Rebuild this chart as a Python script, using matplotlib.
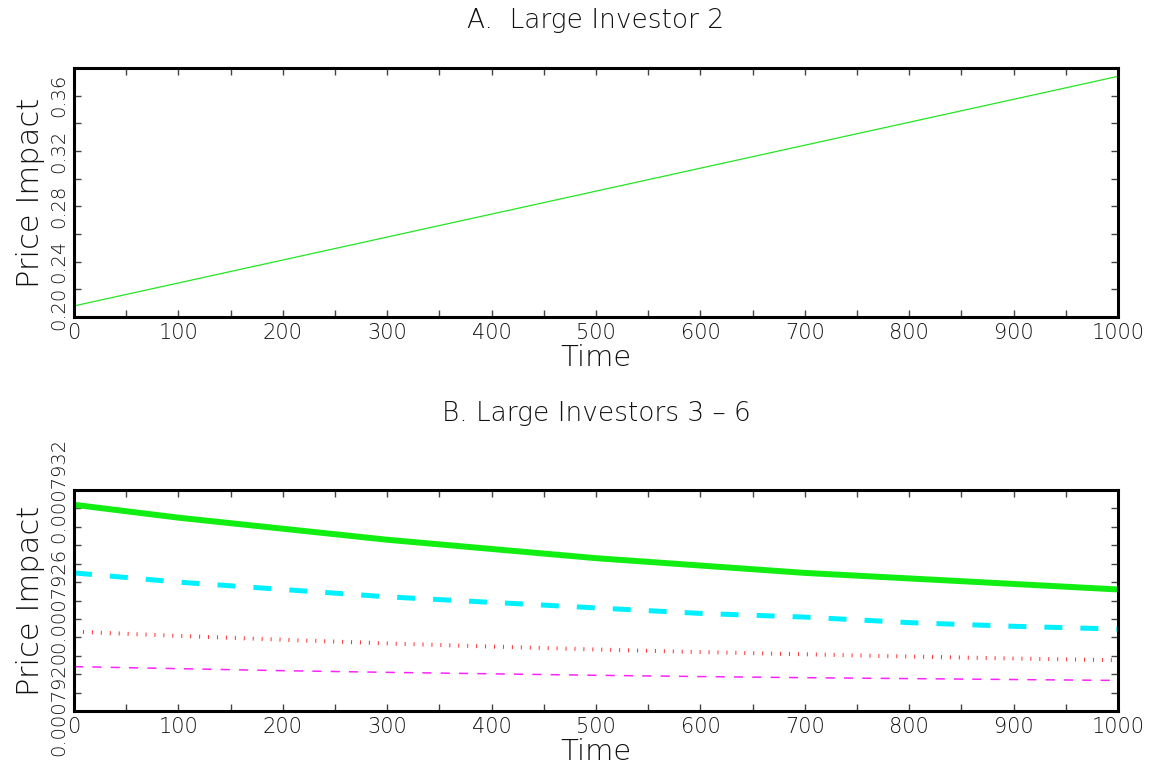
import matplotlib
matplotlib.use("Agg")
import matplotlib.pyplot as plt
from matplotlib.ticker import FixedLocator, MultipleLocator, FormatStrFormatter
from matplotlib.transforms import ScaledTranslation

# time grid (both panels)
time = [0, 100, 200, 300, 400, 500, 600, 700, 800, 900, 1000]

# panel A: large investor 2
impact_a = [0.208, 0.2246, 0.2412, 0.2578, 0.2744, 0.291, 0.3076, 0.3242, 0.3408, 0.3574, 0.374]

# panel B: large investors 3 - 6
impact_3 = [0.00079312, 0.00079305, 0.00079299, 0.00079293, 0.00079288, 0.00079283,
            0.00079279, 0.00079275, 0.00079272, 0.00079269, 0.00079266]
impact_4 = [0.00079275, 0.00079270, 0.00079266, 0.00079262, 0.00079259, 0.00079256,
            0.00079253, 0.00079251, 0.00079248, 0.00079246, 0.000792445]
impact_5 = [0.000792431, 0.000792408, 0.000792387, 0.000792367, 0.000792350, 0.000792334,
            0.000792320, 0.000792308, 0.000792296, 0.000792285, 0.000792276]
impact_6 = [0.000792241, 0.000792230, 0.000792219, 0.000792210, 0.000792202, 0.000792194,
            0.000792187, 0.000792181, 0.000792176, 0.000792171, 0.000792166]

yticks_a = [0.20, 0.24, 0.28, 0.32, 0.36]
yticks_b = [0.0007920, 0.0007926, 0.0007932]
yminor_b = [0.0007920 + i * 1e-7 for i in range(13)]

txt = "#111111"
font = dict(family="DejaVu Sans", color=txt, fontweight="light")

fig = plt.figure(figsize=(11.53, 7.67), dpi=100)
ax1 = fig.add_axes([0.0642, 0.5867, 0.9055, 0.3246])
ax2 = fig.add_axes([0.0642, 0.0730, 0.9055, 0.2881])


def style_axes(ax):
    for s in ax.spines.values():
        s.set_linewidth(2.2)
        s.set_color("black")
    ax.set_xlim(0, 1000)
    ax.xaxis.set_major_locator(MultipleLocator(100))
    ax.xaxis.set_minor_locator(MultipleLocator(50))
    ax.tick_params(which="both", direction="in", top=True, right=True,
                   width=1, color="#444444", length=5)
    ax.tick_params(axis="x", labelsize=15, labelcolor=txt, pad=4)
    ax.tick_params(axis="y", labelsize=14, labelcolor=txt, pad=4)
    for lab in ax.get_yticklabels():
        lab.set_rotation(90)
        lab.set_va("center")
        lab.set_fontweight("light")
    for lab in ax.get_xticklabels():
        lab.set_fontweight("light")
    ax.set_xlabel("Time", fontsize=21, labelpad=1, **font)
    ax.set_ylabel("Price Impact", fontsize=22, labelpad=3, **font)


def nudge(lab, dx_px, dy_px):
    off = ScaledTranslation(dx_px / 100, dy_px / 100, fig.dpi_scale_trans)
    lab.set_transform(lab.get_transform() + off)


# panel A
ax1.plot(time, impact_a, color="#22e622", lw=0.9)
ax1.set_ylim(0.20, 0.38)
ax1.yaxis.set_major_locator(FixedLocator(yticks_a))
ax1.yaxis.set_minor_locator(MultipleLocator(0.02))
ax1.yaxis.set_major_formatter(FormatStrFormatter("%.2f"))
ax1.set_title("A.  Large Investor 2", fontsize=19, pad=29, **font)
style_axes(ax1)

# panel B
ax2.plot(time, impact_3, color="#11ee11", lw=4.3, solid_capstyle="butt")
ax2.plot(time, impact_4, color="#00f0ff", lw=3.6, dashes=(3.6, 3.6),
         dash_capstyle="butt")
ax2.plot(time, impact_5, color="#ff3333", lw=2.9, dashes=(0.25, 1.97),
         dash_capstyle="butt")
ax2.plot(time, impact_6, color="#ff22ff", lw=1.1, dashes=(6, 6),
         dash_capstyle="butt")
ax2.set_ylim(0.0007920, 0.0007932)
ax2.yaxis.set_major_locator(FixedLocator(yticks_b))
ax2.yaxis.set_minor_locator(FixedLocator(yminor_b))
ax2.yaxis.set_major_formatter(FormatStrFormatter("%.7f"))
ax2.set_title("B. Large Investors 3 \u2013 6", fontsize=19, pad=50, **font)
style_axes(ax2)

# keep the corner labels apart, as in the original
nudge(ax1.get_yticklabels()[0], 0, 9)
nudge(ax2.get_yticklabels()[0], 0, 8)
nudge(ax1.get_xticklabels()[0], 9, 0)
nudge(ax2.get_xticklabels()[0], 9, 0)

fig.savefig("out.png", dpi=100)
